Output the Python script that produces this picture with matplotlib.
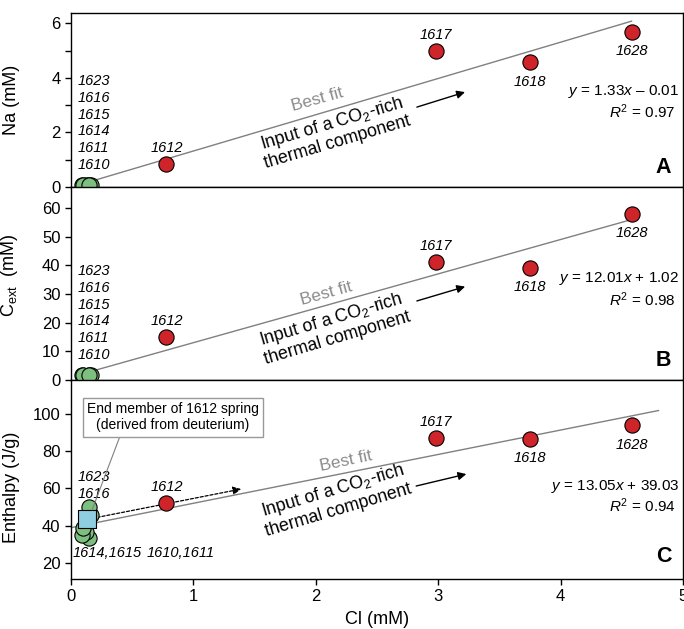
import matplotlib
matplotlib.use("Agg")
import matplotlib.pyplot as plt

plt.rcParams['font.family'] = 'Liberation Sans'
plt.rcParams['mathtext.fontset'] = 'custom'
plt.rcParams['mathtext.rm'] = 'Liberation Sans'
plt.rcParams['mathtext.it'] = 'Liberation Sans:italic'

# ── data ─────────────────────────────────────────────────────────────────────
red_ids  = ["1612", "1617", "1618", "1628"]
red_cl   = [0.78, 2.98, 3.75, 4.58]
red_na   = [0.84, 4.99, 4.58, 5.69]
red_cext = [15.1, 41.2, 39.1, 58.0]
red_h    = [52.2, 87.2, 86.5, 93.8]
red_above = [True, True, False, False]

green_ids  = ["1610", "1611", "1614", "1615", "1616", "1623"]
green_cl   = [0.145, 0.12, 0.09, 0.10, 0.165, 0.15]
green_na   = [0.08, 0.06, 0.07, 0.08, 0.09, 0.07]
green_cext = [1.7, 1.5, 1.8, 1.6, 1.9, 1.7]
green_h    = [33.5, 36.5, 35.0, 39.0, 46.0, 50.0]

end_cl, end_h = 0.133, 43.5          # 1612 end member (deuterium)
dashed_end = (1.39, 59.7)

# fits: slope, intercept, R2, x range of drawn line
fits = {
    "A": (1.33, -0.01, 0.97, 0.13, 4.58),
    "B": (12.01, 1.02, 0.98, 0.15, 4.58),
    "C": (13.05, 39.03, 0.94, 0.0, 4.8),
}

RED   = "#d0242b"
GREEN = "#7cbf7e"
BLUE  = "#8fcde0"
GREY  = "#808080"

fig = plt.figure(figsize=(6.84, 6.29), dpi=100)
L, W = 0.1038, 0.8947
axA = fig.add_axes([L, 0.7027, W, 0.2766])
axB = fig.add_axes([L, 0.3959, W, 0.3068])
axC = fig.add_axes([L, 0.0795, W, 0.3164])


def fit_line(ax, key):
    m, b, r2, x0, x1 = fits[key]
    ax.plot([x0, x1], [m * x0 + b, m * x1 + b], color=GREY, lw=1.0, zorder=1)
    sign = "+" if b >= 0 else "\u2013"
    return m, b, r2, sign


def red_points(ax, ys):
    ax.scatter(red_cl, ys, s=120, c=RED, edgecolors="k", linewidths=0.8,
               zorder=4, clip_on=False)
    for name, x, y, up in zip(red_ids, red_cl, ys, red_above):
        off = 11.5 if up else -14
        ax.annotate(name, (x, y), xytext=(0, off), textcoords="offset points",
                    ha="center", va="center", fontsize=10.5, style="italic")


def green_points(ax, ys):
    ax.scatter(green_cl, ys, s=120, c=GREEN, edgecolors="k", linewidths=0.8,
               zorder=3, clip_on=False)


def stacked_labels(ax, ys):
    for name, y in zip(["1623", "1616", "1615", "1614", "1611", "1610"], ys):
        ax.text(0.052, y, name, ha="left", va="center", fontsize=10.5,
                style="italic")


def equation(ax, m, b, r2, sign, y_eq, y_r2):
    ax.text(0.994, y_eq, f"$y$ = {m:.2f}$x$ {sign} {abs(b):.2f}",
            transform=ax.get_yaxis_transform(), ha="right", va="center",
            fontsize=11)
    ax.text(0.988, y_r2, f"$R^2$ = {r2:.2f}",
            transform=ax.get_yaxis_transform(), ha="right", va="center",
            fontsize=11)


def co2_text(ax, best_xy, best_rot, inp_xy, arr0, arr1):
    ax.text(*best_xy, "Best fit", color="#8c8c8c", fontsize=12.5,
            rotation=best_rot, ha="center", va="center", rotation_mode="anchor")
    ax.text(*inp_xy, "Input of a CO$_2$-rich\nthermal component", fontsize=12.8,
            rotation=16.5, ha="center", va="center", multialignment="center",
            rotation_mode="anchor", linespacing=1.05)
    ax.annotate("", xy=arr1, xytext=arr0,
                arrowprops=dict(arrowstyle="-|>", color="k", lw=1.0,
                                mutation_scale=12, shrinkA=0, shrinkB=0))


def panel_letter(ax, letter, y=0.05):
    ax.text(0.981, y, letter, transform=ax.transAxes, ha="right", va="bottom",
            fontsize=15.5, fontweight="bold")


# ── panel A ──────────────────────────────────────────────────────────────────
ax = axA
m, b, r2, sign = fit_line(ax, "A")
green_points(ax, green_na)
red_points(ax, red_na)
stacked_labels(ax, [3.89, 3.25, 2.64, 2.05, 1.43, 0.80])
equation(ax, m, b, r2, sign, 3.49, 2.76)
co2_text(ax, (2.01, 3.19), 15.5, (2.155, 2.01), (2.826, 2.93), (3.219, 3.48))
panel_letter(ax, "A")
ax.set_ylim(0, 6.38)
ax.set_yticks([0, 2, 4, 6])
ax.set_yticks([1, 3, 5], minor=True)
ax.set_ylabel("Na (mM)", fontsize=13)
ax.yaxis.set_label_coords(-0.083, 0.5)

# ── panel B ──────────────────────────────────────────────────────────────────
ax = axB
m, b, r2, sign = fit_line(ax, "B")
green_points(ax, green_cext)
red_points(ax, red_cext)
stacked_labels(ax, [38.1, 32.1, 26.2, 20.6, 14.7, 8.7])
equation(ax, m, b, r2, sign, 35.5, 28.2)
co2_text(ax, (2.09, 30.2), 15.5, (2.15, 18.2), (2.826, 27.6), (3.22, 32.6))
panel_letter(ax, "B", 0.045)
ax.set_ylim(0, 67.4)
ax.set_yticks(range(0, 61, 10))
ax.set_ylabel("C$_{\\rm ext}$  (mM)", fontsize=13)
ax.yaxis.set_label_coords(-0.083, 0.54)

# ── panel C ──────────────────────────────────────────────────────────────────
ax = axC
m, b, r2, sign = fit_line(ax, "C")
green_points(ax, green_h)
ax.annotate("", xy=dashed_end, xytext=(end_cl, end_h),
            arrowprops=dict(arrowstyle="-|>", color="k", lw=0.9, ls=(0, (2.5, 1.5)),
                            mutation_scale=12, shrinkA=0, shrinkB=0), zorder=2)
ax.annotate("End member of 1612 spring\n(derived from deuterium)",
            xy=(0.172, 48.5), xytext=(0.833, 98), ha="center", va="center",
            fontsize=10, multialignment="center",
            bbox=dict(boxstyle="square,pad=0.3", fc="white", ec="#999999", lw=1),
            arrowprops=dict(arrowstyle="-", color=GREY, lw=0.8,
                            relpos=(0.2, 0), shrinkA=0, shrinkB=0), zorder=6)
ax.scatter([end_cl], [end_h], marker="s", s=150, c=BLUE, edgecolors="k",
           linewidths=0.8, zorder=5)
red_points(ax, red_h)
ax.text(0.19, 66.2, "1623", ha="center", va="center", fontsize=10.5, style="italic")
ax.text(0.19, 57.1, "1616", ha="center", va="center", fontsize=10.5, style="italic")
ax.text(0.298, 25.5, "1614,1615", ha="center", va="center", fontsize=10.5, style="italic")
ax.text(0.895, 25.5, "1610,1611", ha="center", va="center", fontsize=10.5, style="italic")
equation(ax, m, b, r2, sign, 61.0, 50.6)
co2_text(ax, (2.25, 74.4), 12, (2.16, 54.0), (2.82, 61.3), (3.23, 67.7))
panel_letter(ax, "C", 0.06)
ax.set_ylim(11.6, 118)
ax.set_yticks(range(20, 101, 20))
ax.set_ylabel("Enthalpy (J/g)", fontsize=13)
ax.yaxis.set_label_coords(-0.083, 0.46)
ax.set_xlabel("Cl (mM)", fontsize=13, labelpad=5)

for ax in (axA, axB, axC):
    ax.set_xlim(0, 5)
    ax.tick_params(axis="y", which="both", direction="out", length=4,
                   width=1, labelsize=12)
    for s in ax.spines.values():
        s.set_linewidth(1.0)
for ax in (axA, axB):
    ax.tick_params(axis="x", bottom=False, labelbottom=False)
axC.set_xticks(range(0, 6))
axC.tick_params(axis="x", direction="out", length=4, width=1, labelsize=12)

fig.savefig("out.png", dpi=100)
